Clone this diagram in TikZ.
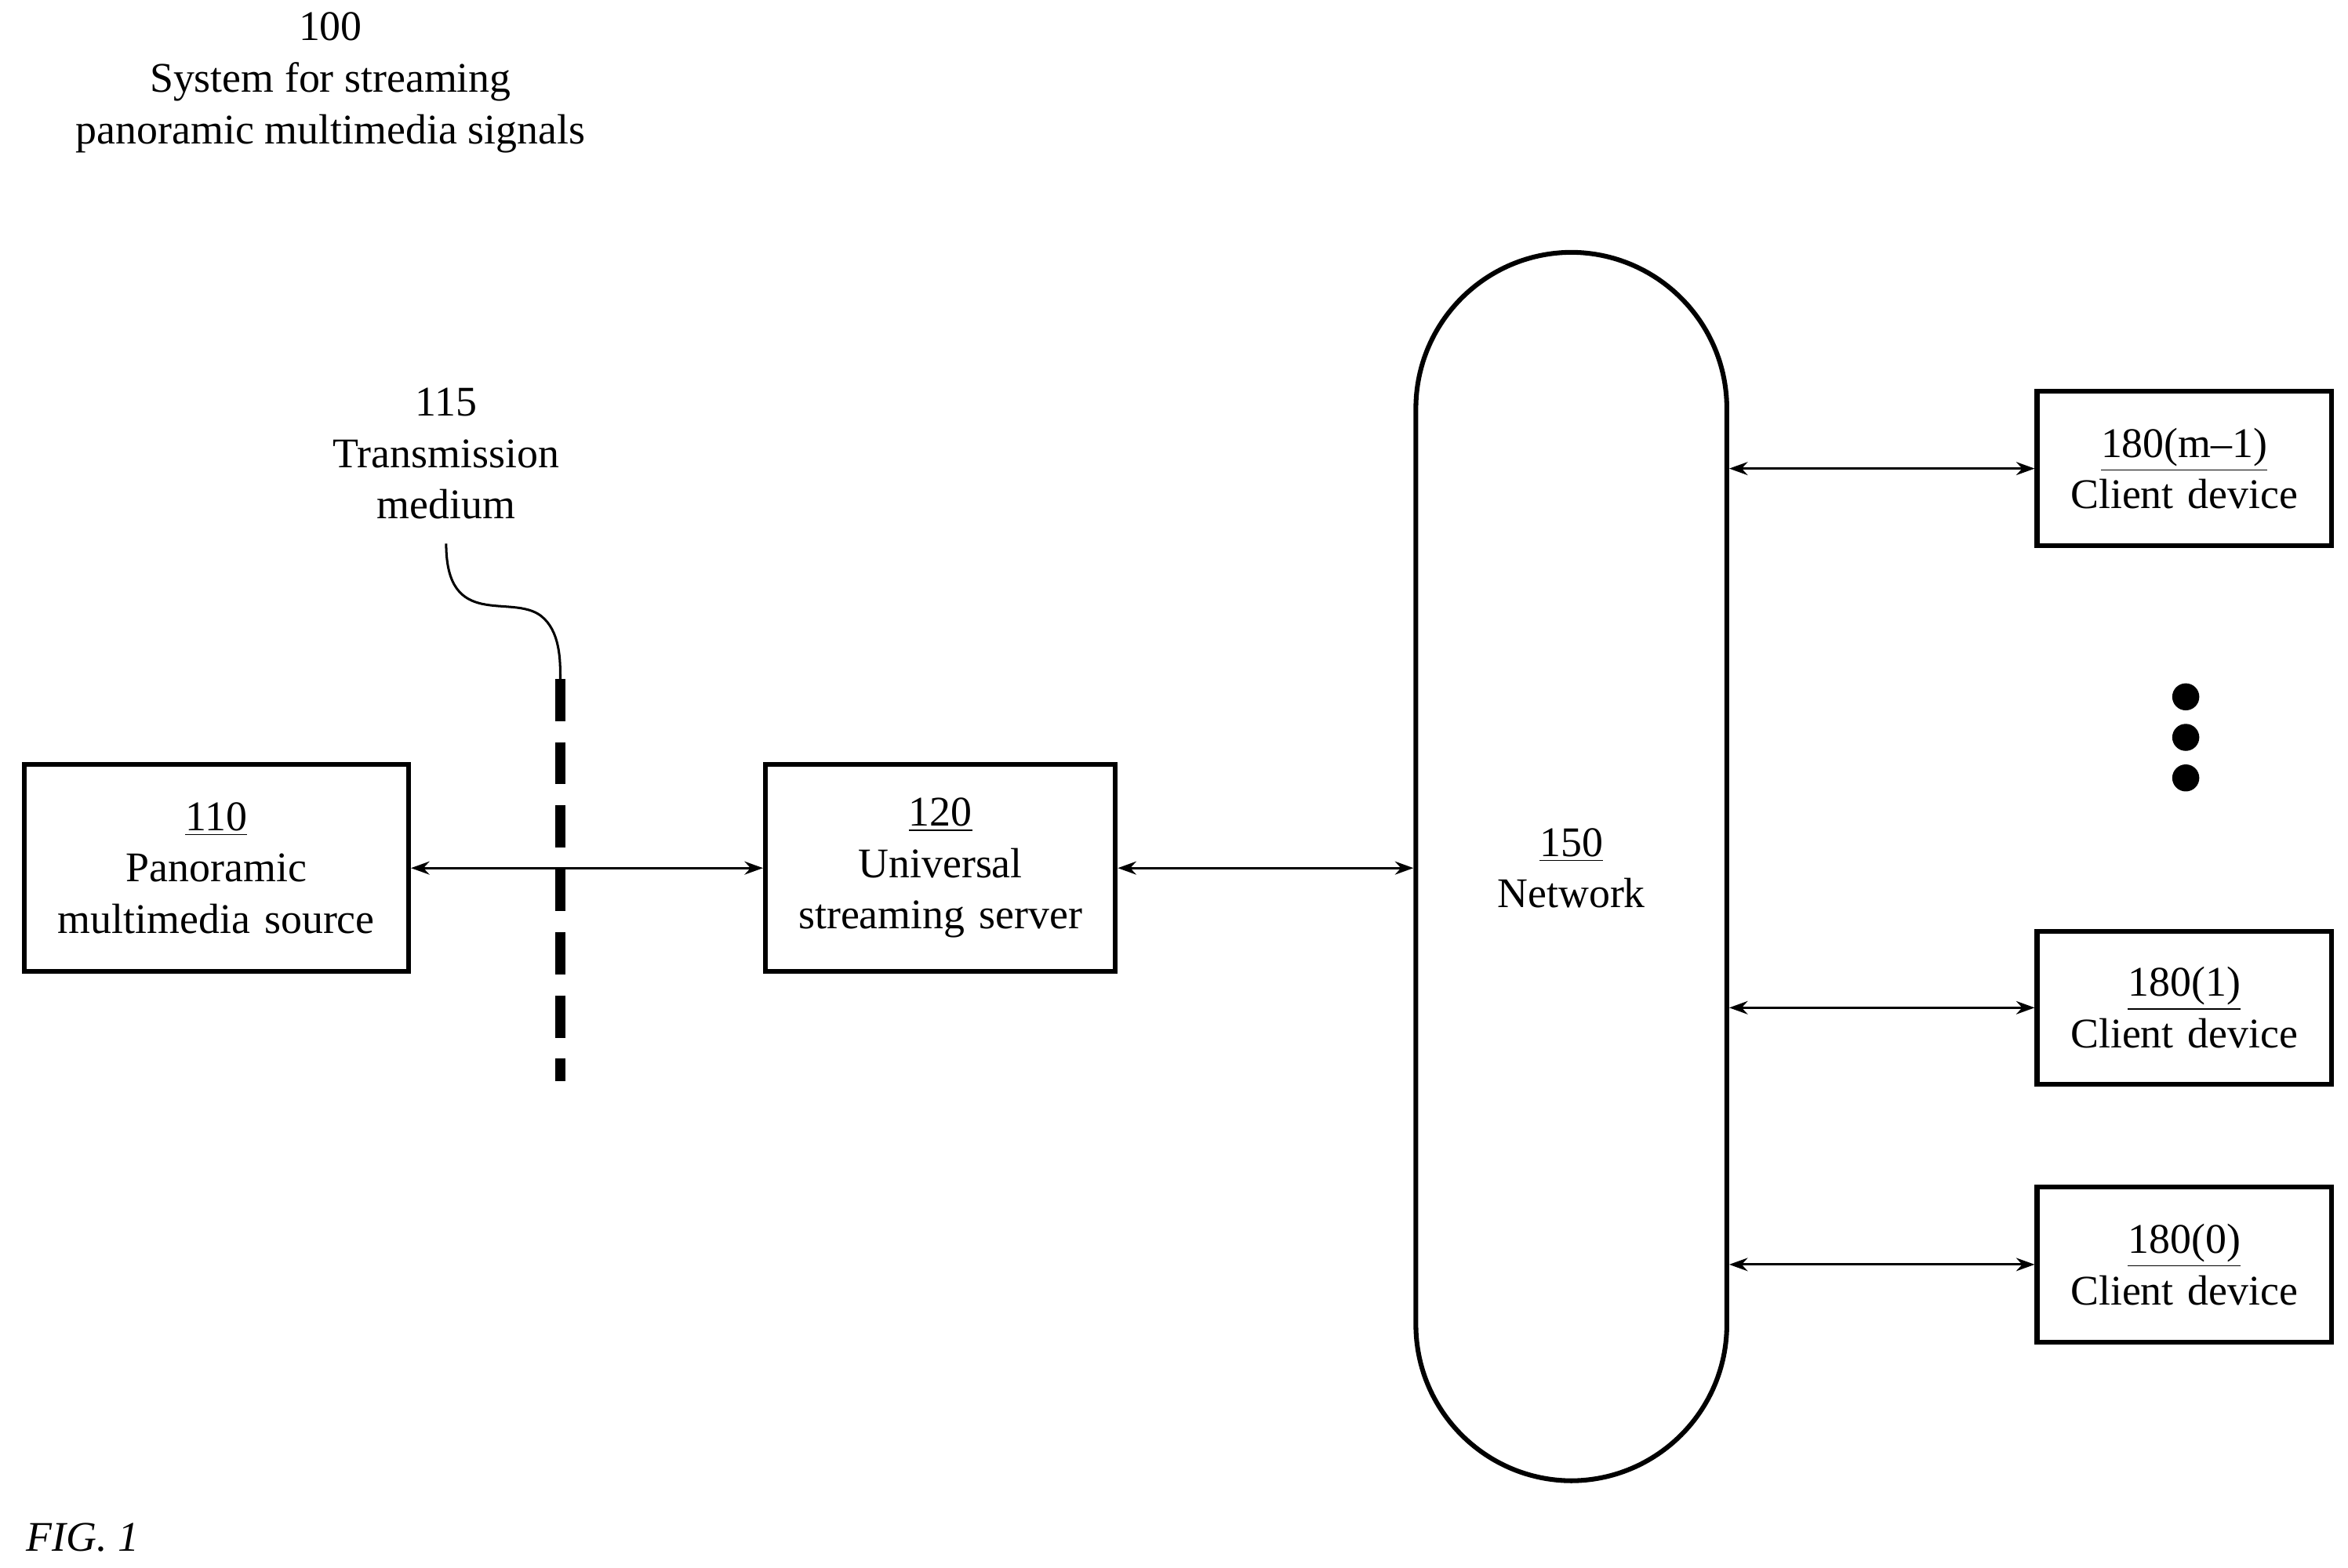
\documentclass[tikz,border=0pt]{standalone}
\usepackage{fontspec}
\setmainfont{Liberation Serif}
\usetikzlibrary{arrows.meta}
\begin{document}
\begin{tikzpicture}[x=0.02cm,y=-0.02cm,
  box/.style={draw,line width=1.8pt,inner sep=0pt,align=center,font=\fontsize{16pt}{19.5pt}\selectfont},
  lbl/.style={align=center,font=\fontsize{16pt}{19.5pt}\selectfont},
  link/.style={line width=0.9pt,{Stealth[length=7pt,width=5pt]}-{Stealth[length=7pt,width=5pt]}}]
\useasboundingbox (0,0) rectangle (1563,1044);
\node[lbl] (title) at (220,55) {100\\System for streaming\\panoramic multimedia signals};
\node[box,text width=256*0.02cm,minimum height=138*0.02cm] (src) at (144,578) {\underline{110}\\Panoramic\\multimedia source};
\node[box,text width=233*0.02cm,minimum height=138*0.02cm] (srv) at (626,578) {\underline{120}\\Universal\\streaming server};
\node[draw,line width=1.8pt,rounded corners=104*0.02cm,minimum width=207*0.02cm,minimum height=818*0.02cm,inner sep=0pt] (net) at (1046,577) {};
\node[lbl] (netl) at (1046,578) {\underline{150}\\Network};
\node[box,text width=196*0.02cm,minimum height=103*0.02cm] (c2) at (1454,312) {\underline{180(m--1)}\\Client device};
\node[box,text width=196*0.02cm,minimum height=102*0.02cm] (c1) at (1454,671) {\underline{180(1)}\\Client device};
\node[box,text width=196*0.02cm,minimum height=103*0.02cm] (c0) at (1454,842) {\underline{180(0)}\\Client device};
\foreach \y/\n in {464/a,491/b,518/c} \fill (1455,\y) circle (9) coordinate (d\n);
\draw[link] (src.east) -- (srv.west);
\draw[link] (srv.east) -- (net.west |- srv.east);
\draw[link] (net.east |- c2.west) -- (c2.west);
\draw[link] (net.east |- c1.west) -- (c1.west);
\draw[link] (net.east |- c0.west) -- (c0.west);
\coordinate (mt) at (373,452);
\coordinate (mb) at (373,720);
\draw[line width=4pt,dash pattern=on 16pt off 8pt] (mt) -- (mb);
\node[lbl] (med) at (297,302) {115\\Transmission\\medium};
\draw[line width=0.9pt] (297,362) .. controls (297,420) and (340,395) .. (360,410) .. controls (373,420) and (373,440) .. (mt);
\node[font=\fontsize{16pt}{19.5pt}\selectfont\itshape] (fig) at (55,1024) {FIG. 1};
\end{tikzpicture}
\end{document}
